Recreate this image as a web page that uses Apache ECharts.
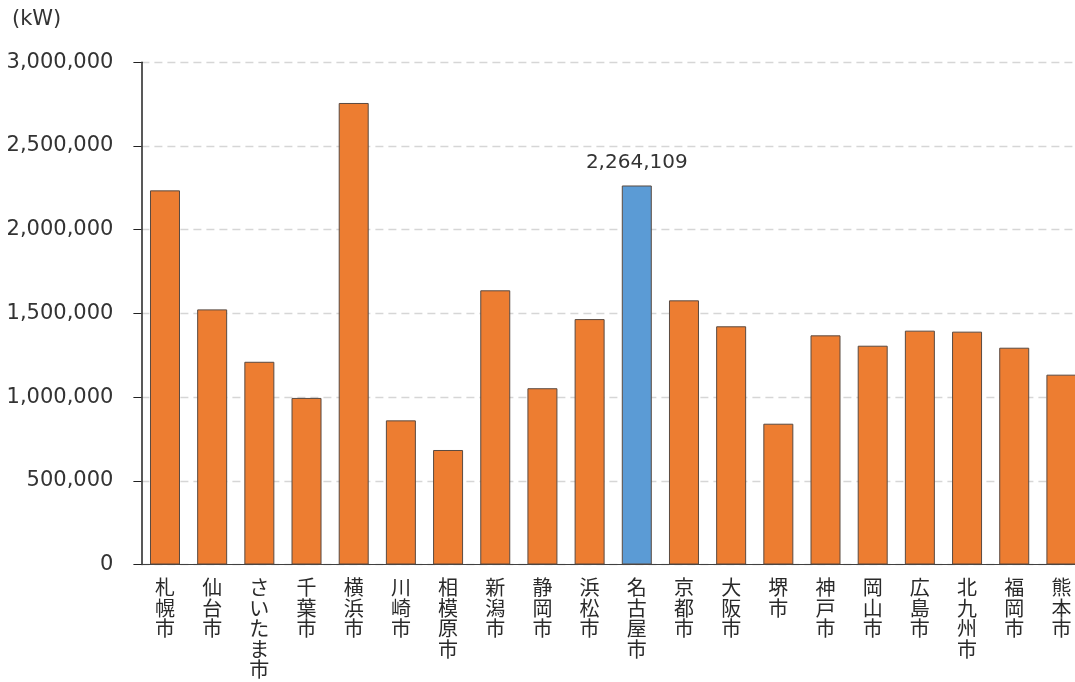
<!DOCTYPE html>
<html><head><meta charset="utf-8">
<script src="https://cdn.jsdelivr.net/npm/echarts@6/dist/echarts.min.js"></script>
<style>html,body{margin:0;padding:0;background:#fff}#c{width:1075px;height:682px}</style>
</head><body><div id="c"></div>
<script>
const categories = ['札幌市','仙台市','さいたま市','千葉市','横浜市','川崎市','相模原市','新潟市','静岡市','浜松市','名古屋市','京都市','大阪市','堺市','神戸市','岡山市','広島市','北九州市','福岡市','熊本市'];
const values = [2235000,1524000,1211000,995000,2757000,861000,684000,1638000,1053000,1466000,2264109,1578000,1423000,841000,1369000,1307000,1397000,1391000,1295000,1134000];
const highlightCity = '名古屋市';
const yTicks = [0,500000,1000000,1500000,2000000,2500000,3000000];
const unitLabel = '(kW)';

const ORANGE = '#ED7D31', BLUE = '#5B9BD5';
const fmt = v => v.toLocaleString('en-US');
const chart = echarts.init(document.getElementById('c'));
chart.setOption({
  animation: false,
  backgroundColor: '#fff',
  textStyle: { fontFamily: '"DejaVu Sans","Noto Sans CJK JP",sans-serif' },
  graphic: [{ type: 'text', left: 12, top: 9, style: { text: unitLabel, fontSize: 21, fill: '#333', fontFamily: '"DejaVu Sans",sans-serif' } }],
  grid: { left: 141.4, top: 62.3, width: 943.6, height: 502.2, containLabel: false, outerBoundsMode: 'none' },
  xAxis: {
    type: 'category', data: categories,
    axisLine: { lineStyle: { color: '#404040', width: 1.2 } },
    axisTick: { alignWithLabel: true, length: 6, lineStyle: { color: '#404040' } },
    axisLabel: {
      interval: 0, margin: 13, color: '#2a2a2a', fontSize: 20, lineHeight: 20.5,
      fontFamily: '"Noto Sans CJK JP",sans-serif',
      formatter: v => v.split('').join('\n')
    }
  },
  yAxis: {
    type: 'value', min: yTicks[0], max: yTicks[yTicks.length-1], interval: yTicks[1]-yTicks[0],
    axisLine: { show: true, lineStyle: { color: '#222', width: 1.5 } },
    axisTick: { show: true, length: 8, lineStyle: { color: '#222' } },
    axisLabel: { margin: 28, fontSize: 21, color: '#333', formatter: v => fmt(v) },
    splitLine: { show: true, lineStyle: { color: '#d6d6d6', type: [8,5], width: 1.3 } }
  },
  series: [{
    type: 'bar', barWidth: 30,
    data: values.map((v, i) => categories[i] === highlightCity ? {
      value: v, itemStyle: { color: BLUE },
      label: { show: true, position: 'top', distance: 13, fontSize: 20, color: '#333', formatter: p => fmt(p.value) }
    } : v),
    itemStyle: { color: ORANGE, borderColor: '#5a4a40', borderWidth: 1 }
  }]
});
</script></body></html>
